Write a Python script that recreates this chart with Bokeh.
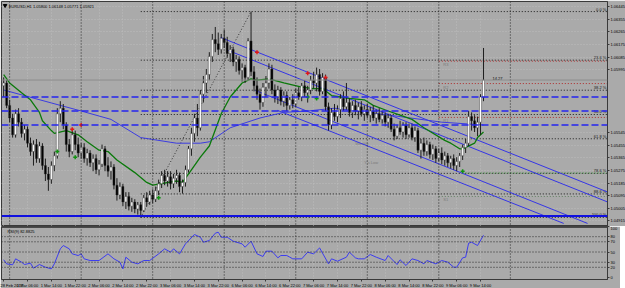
from bokeh.plotting import figure
from bokeh.models import (Range1d, LinearAxis, FixedTicker, NumeralTickFormatter,
                          Grid, Span, Label, ColumnDataSource)
from bokeh.layouts import column
from bokeh.embed import file_html
from bokeh.resources import INLINE
from bokeh.core.properties import value

# ---------------- data (EURUSD H1) ----------------
opens = [1.0588, 1.0590, 1.0574, 1.0565, 1.0553, 1.0568, 1.0562, 1.0554, 1.0557, 1.0547,
         1.0541, 1.0546, 1.0536, 1.0545, 1.0531, 1.0525, 1.0521, 1.0531, 1.0538, 1.0568,
         1.0572, 1.0560, 1.0546, 1.0541, 1.0553, 1.0546, 1.0540, 1.0544, 1.0536, 1.0540,
         1.0533, 1.0536, 1.0528, 1.0532, 1.0543, 1.0531, 1.0527, 1.0530, 1.0517, 1.0510,
         1.0516, 1.0505, 1.0509, 1.0502, 1.0505, 1.0500, 1.0503, 1.0499, 1.0508, 1.0505,
         1.0510, 1.0507, 1.0513, 1.0518, 1.0524, 1.0520, 1.0523, 1.0518, 1.0522, 1.0524,
         1.0516, 1.0519, 1.0528, 1.0543, 1.0554, 1.0565, 1.0558, 1.0582, 1.0590, 1.0596,
         1.0609, 1.0621, 1.0618, 1.0614, 1.0622, 1.0619, 1.0611, 1.0614, 1.0605, 1.0607,
         1.0599, 1.0601, 1.0594, 1.0620, 1.0598, 1.0588, 1.0582, 1.0576, 1.0587, 1.0590,
         1.0600, 1.0585, 1.0580, 1.0585, 1.0577, 1.0581, 1.0574, 1.0578, 1.0575, 1.0583,
         1.0580, 1.0588, 1.0583, 1.0585, 1.0592, 1.0590, 1.0596, 1.0584, 1.0594, 1.0573,
         1.0560, 1.0569, 1.0566, 1.0571, 1.0579, 1.0573, 1.0576, 1.0569, 1.0574, 1.0570,
         1.0573, 1.0568, 1.0571, 1.0567, 1.0570, 1.0565, 1.0568, 1.0564, 1.0567, 1.0562,
         1.0565, 1.0557, 1.0552, 1.0558, 1.0555, 1.0560, 1.0553, 1.0558, 1.0551, 1.0556,
         1.0542, 1.0547, 1.0541, 1.0546, 1.0539, 1.0543, 1.0536, 1.0540, 1.0535, 1.0538,
         1.0533, 1.0536, 1.0531, 1.0534, 1.0538, 1.0544, 1.0547, 1.0566, 1.0563, 1.0558,
         1.0562, 1.0580]
highs = [1.0594, 1.0592, 1.0578, 1.0568, 1.0571, 1.0572, 1.0565, 1.0560, 1.0559, 1.0551,
         1.0549, 1.0550, 1.0548, 1.0547, 1.0536, 1.0530, 1.0534, 1.0541, 1.0572, 1.0577,
         1.0575, 1.0562, 1.0550, 1.0557, 1.0556, 1.0551, 1.0547, 1.0547, 1.0543, 1.0542,
         1.0539, 1.0539, 1.0535, 1.0546, 1.0545, 1.0537, 1.0534, 1.0532, 1.0522, 1.0519,
         1.0518, 1.0512, 1.0512, 1.0508, 1.0507, 1.0505, 1.0505, 1.0510, 1.0512, 1.0513,
         1.0514, 1.0516, 1.0521, 1.0527, 1.0528, 1.0527, 1.0527, 1.0525, 1.0528, 1.0526,
         1.0521, 1.0531, 1.0545, 1.0558, 1.0568, 1.0575, 1.0585, 1.0595, 1.0600, 1.0612,
         1.0625, 1.0630, 1.0626, 1.0625, 1.0628, 1.0623, 1.0617, 1.0616, 1.0610, 1.0609,
         1.0604, 1.0603, 1.0622, 1.0641, 1.0602, 1.0594, 1.0586, 1.0590, 1.0595, 1.0604,
         1.0603, 1.0589, 1.0588, 1.0587, 1.0584, 1.0584, 1.0580, 1.0582, 1.0586, 1.0587,
         1.0590, 1.0592, 1.0588, 1.0595, 1.0598, 1.0601, 1.0600, 1.0597, 1.0596, 1.0576,
         1.0572, 1.0575, 1.0574, 1.0582, 1.0584, 1.0590, 1.0579, 1.0577, 1.0578, 1.0576,
         1.0577, 1.0574, 1.0575, 1.0573, 1.0574, 1.0571, 1.0572, 1.0570, 1.0569, 1.0568,
         1.0567, 1.0561, 1.0560, 1.0563, 1.0562, 1.0562, 1.0561, 1.0561, 1.0559, 1.0558,
         1.0550, 1.0551, 1.0549, 1.0548, 1.0546, 1.0545, 1.0543, 1.0544, 1.0541, 1.0540,
         1.0538, 1.0539, 1.0537, 1.0540, 1.0546, 1.0550, 1.0570, 1.0569, 1.0567, 1.0566,
         1.0582, 1.0615]
lows = [1.0580, 1.0572, 1.0562, 1.0551, 1.0551, 1.0559, 1.0551, 1.0549, 1.0544, 1.0538,
        1.0531, 1.0533, 1.0533, 1.0528, 1.0520, 1.0513, 1.0518, 1.0527, 1.0536, 1.0562,
        1.0557, 1.0541, 1.0537, 1.0539, 1.0542, 1.0537, 1.0536, 1.0533, 1.0531, 1.0530,
        1.0527, 1.0525, 1.0524, 1.0530, 1.0527, 1.0523, 1.0521, 1.0514, 1.0506, 1.0507,
        1.0502, 1.0500, 1.0499, 1.0498, 1.0497, 1.0496, 1.0494, 1.0498, 1.0502, 1.0503,
        1.0504, 1.0505, 1.0510, 1.0515, 1.0517, 1.0516, 1.0514, 1.0515, 1.0518, 1.0512,
        1.0511, 1.0516, 1.0526, 1.0538, 1.0548, 1.0552, 1.0556, 1.0576, 1.0583, 1.0592,
        1.0605, 1.0612, 1.0610, 1.0611, 1.0615, 1.0608, 1.0605, 1.0602, 1.0598, 1.0596,
        1.0591, 1.0590, 1.0592, 1.0595, 1.0584, 1.0578, 1.0571, 1.0573, 1.0580, 1.0586,
        1.0582, 1.0576, 1.0575, 1.0574, 1.0573, 1.0570, 1.0571, 1.0572, 1.0573, 1.0578,
        1.0577, 1.0580, 1.0576, 1.0582, 1.0586, 1.0584, 1.0581, 1.0582, 1.0570, 1.0556,
        1.0557, 1.0563, 1.0562, 1.0565, 1.0570, 1.0571, 1.0566, 1.0565, 1.0567, 1.0564,
        1.0566, 1.0563, 1.0565, 1.0562, 1.0563, 1.0561, 1.0562, 1.0561, 1.0559, 1.0558,
        1.0555, 1.0549, 1.0550, 1.0553, 1.0551, 1.0550, 1.0551, 1.0549, 1.0548, 1.0540,
        1.0536, 1.0538, 1.0538, 1.0536, 1.0535, 1.0533, 1.0534, 1.0532, 1.0531, 1.0530,
        1.0529, 1.0528, 1.0527, 1.0530, 1.0535, 1.0540, 1.0545, 1.0556, 1.0555, 1.0552,
        1.0553, 1.0577]
closes = [1.0590, 1.0574, 1.0565, 1.0553, 1.0568, 1.0562, 1.0554, 1.0557, 1.0547, 1.0541,
          1.0546, 1.0536, 1.0545, 1.0531, 1.0525, 1.0521, 1.0531, 1.0538, 1.0568, 1.0572,
          1.0560, 1.0546, 1.0541, 1.0553, 1.0546, 1.0540, 1.0544, 1.0536, 1.0540, 1.0533,
          1.0536, 1.0528, 1.0532, 1.0543, 1.0531, 1.0527, 1.0530, 1.0517, 1.0510, 1.0516,
          1.0505, 1.0509, 1.0502, 1.0505, 1.0500, 1.0503, 1.0499, 1.0508, 1.0505, 1.0510,
          1.0507, 1.0513, 1.0518, 1.0524, 1.0520, 1.0523, 1.0518, 1.0522, 1.0524, 1.0516,
          1.0519, 1.0528, 1.0543, 1.0554, 1.0565, 1.0558, 1.0582, 1.0590, 1.0596, 1.0609,
          1.0621, 1.0618, 1.0614, 1.0622, 1.0619, 1.0611, 1.0614, 1.0605, 1.0607, 1.0599,
          1.0601, 1.0594, 1.0620, 1.0598, 1.0588, 1.0582, 1.0576, 1.0587, 1.0590, 1.0600,
          1.0585, 1.0580, 1.0585, 1.0577, 1.0581, 1.0574, 1.0578, 1.0575, 1.0583, 1.0580,
          1.0588, 1.0583, 1.0585, 1.0592, 1.0590, 1.0596, 1.0584, 1.0594, 1.0573, 1.0560,
          1.0569, 1.0566, 1.0571, 1.0579, 1.0573, 1.0576, 1.0569, 1.0574, 1.0570, 1.0573,
          1.0568, 1.0571, 1.0567, 1.0570, 1.0565, 1.0568, 1.0564, 1.0567, 1.0562, 1.0565,
          1.0557, 1.0552, 1.0558, 1.0555, 1.0560, 1.0553, 1.0558, 1.0551, 1.0556, 1.0542,
          1.0547, 1.0541, 1.0546, 1.0539, 1.0543, 1.0536, 1.0540, 1.0535, 1.0538, 1.0533,
          1.0536, 1.0531, 1.0534, 1.0538, 1.0544, 1.0547, 1.0566, 1.0563, 1.0558, 1.0562,
          1.0580, 1.05921]

time_tick_bars = [0, 8, 16, 24, 32, 40, 48, 56, 64, 72, 80, 88, 96, 104, 112, 120, 128, 136, 144, 152, 160]
time_tick_labels = ["28 Feb 2017", "1 Mar 06:00", "1 Mar 14:00", "1 Mar 22:00", "2 Mar 06:00",
                    "2 Mar 14:00", "2 Mar 22:00", "3 Mar 06:00", "3 Mar 14:00", "3 Mar 22:00",
                    "6 Mar 06:00", "6 Mar 14:00", "6 Mar 22:00", "7 Mar 06:00", "7 Mar 14:00",
                    "7 Mar 22:00", "8 Mar 06:00", "8 Mar 14:00", "8 Mar 22:00", "9 Mar 06:00",
                    "9 Mar 14:00"]
day_start_bars = [2, 26, 50, 74, 98, 122, 146, 170]
price_ticks = [1.06445, 1.06355, 1.06265, 1.06175, 1.06085, 1.05995, 1.05545, 1.05455,
               1.05365, 1.05275, 1.05185, 1.05095, 1.05005, 1.04915]
rsi_ticks = [0, 20, 30, 50, 70, 80, 100]
rsi_levels = [20, 30, 50, 70, 80]

ma_fast_bars = [0, 2, 6, 9, 12, 13, 16, 17, 21, 25, 28, 32, 35, 38, 44, 48, 50, 58, 60, 63, 66,
                69, 73, 76, 80, 83, 85, 89, 94, 100, 104, 107, 110, 113, 116, 121, 124, 129,
                133, 137, 141, 148, 150, 153, 154, 158, 159, 161]
ma_fast_vals = [1.0596, 1.0590, 1.0583, 1.0578, 1.0569, 1.0563, 1.0556, 1.0554, 1.0556, 1.0553,
                1.0548, 1.0542, 1.0541, 1.0535, 1.0526, 1.0519, 1.0517, 1.0520, 1.0519, 1.0528,
                1.0537, 1.0545, 1.0568, 1.0580, 1.0590, 1.0593, 1.0592, 1.0593, 1.0590, 1.0587,
                1.0586, 1.0586, 1.0581, 1.0580, 1.0579, 1.0578, 1.0574, 1.0570, 1.0567, 1.0564,
                1.0558, 1.0549, 1.0547, 1.0543, 1.0543, 1.0547, 1.0551, 1.0555]
ma_slow_bars = [0, 19, 26, 36, 46, 58, 66, 69, 76, 86, 94, 102, 111, 122, 133, 147, 161]
ma_slow_vals = [1.0585, 1.0574, 1.0570, 1.0564, 1.0551, 1.0547, 1.0547, 1.0548, 1.0558, 1.0565,
                1.0569, 1.0570, 1.0572, 1.0569, 1.0566, 1.0562, 1.0560]

rsi_bars = [0, 1, 3, 4, 6, 7, 9, 10, 12, 14, 16, 17, 19, 20, 22, 23, 25, 26, 27, 29, 32, 35, 37,
            39, 40, 41, 43, 45, 47, 49, 52, 54, 56, 57, 59, 61, 64, 66, 67, 69, 71, 72, 73, 75,
            77, 80, 81, 83, 85, 87, 88, 90, 92, 93, 95, 97, 100, 102, 104, 106, 109, 110, 112,
            115, 116, 118, 119, 121, 123, 125, 128, 129, 132, 133, 135, 137, 139, 141, 142, 145,
            147, 149, 151, 152, 154, 155, 156, 157, 159, 161]
rsi_vals = [34.7, 26.8, 24.9, 36.6, 30.1, 25.5, 28.1, 18.3, 25.5, 20.2, 17.0, 26.8, 56.2, 62.7,
            56.2, 46.4, 43.1, 46.4, 36.6, 33.3, 33.3, 46.4, 36.6, 30.1, 17.0, 39.9, 30.1, 26.8,
            33.3, 33.3, 46.4, 56.2, 49.7, 56.2, 46.4, 66.0, 84.3, 79.0, 69.2, 72.5, 86.9, 88.8,
            79.0, 79.0, 71.2, 66.0, 59.4, 71.2, 46.4, 41.2, 51.6, 51.6, 38.6, 43.1, 43.1, 36.6,
            36.6, 49.7, 46.4, 58.0, 26.8, 36.6, 32.0, 39.9, 49.7, 38.6, 36.6, 36.6, 45.1, 39.9,
            33.3, 43.1, 25.5, 34.7, 23.5, 36.6, 33.3, 26.8, 33.3, 26.8, 33.3, 30.1, 20.2, 20.2,
            38.6, 39.9, 67.3, 69.2, 62.7, 82.9]
rsi_last = 82.8825

round_levels = [1.0580, 1.0570, 1.0560]
support_level = 1.0495
bid_price = 1.05921
title_text = "EURUSD,H1  1.05800 1.06148 1.05771 1.05921"

fib_low_bar, fib_high_bar = 46, 83
fib_ratios = [0.0, 0.236, 0.382, 0.5, 0.618, 0.786, 0.886, 1.0]
fib_names = ["0.0 %", "23.6 %", "38.2 %", "50.0 %", "61.8 %", "78.6 %", "88.6 %", "100.0 %"]

# channel trend lines (bar index / price at both ends)
chan_x0 = [72.8, 75.4, 84.5, 91.9]
chan_y0 = [1.06225, 1.06132, 1.05846, 1.05704]
chan_x1 = [203.0, 203.0, 195.9, 187.9]
chan_y1 = [1.05118, 1.05047, 1.04897, 1.04897]

# daily pivot levels (from Mar 9 00:00)
pivot_start_bar = 146
pivot_vals = [1.06056, 1.05896, 1.05654, 1.05090]
pivot_cols = ["#b02a2a", "#b02a2a", "#b02a2a", "#5d7d5d"]
pivot_tags = ["R3", "R2", "R1", "S1"]
ylow_start_bar = 154
ylow_val = 1.05257
note_bars = [118, 121]
note_vals = [1.0547, 1.0533]
note_texts = ["Weekly", "Y's Low"]

red_mark_bars = [23, 26, 85, 102, 108]
red_mark_vals = [1.0557, 1.0560, 1.0612, 1.0597, 1.0594]
green_mark_bars = [18, 24, 52, 102, 105, 154]
green_mark_vals = [1.0541, 1.0537, 1.0508, 1.0580, 1.0579, 1.0527]

timer_text = "14.27"

# ---------------- layout constants ----------------
BG = "#aaaaaa"
GRID = "#bdbdbd"
FONT = "Liberation Sans"
FS = "4px"
FRAME_W = 606
MAIN_H = 225
RSI_H = 53
X0, X1 = -0.73, 202.6
Y0, Y1 = 1.04875, 1.06482
PX = (Y1 - Y0) / MAIN_H

xr = Range1d(X0, X1)


def style(fig):
    fig.background_fill_color = BG
    fig.border_fill_color = BG
    fig.outline_line_color = "#3a3a3a"
    fig.outline_line_width = 1
    fig.xgrid.visible = False
    fig.ygrid.visible = False


def style_axis(ax):
    ax.major_label_text_font_size = FS
    ax.major_label_text_font = FONT
    ax.major_label_text_color = "black"
    ax.major_tick_out = 2
    ax.major_tick_in = 0
    ax.minor_tick_line_color = None
    ax.axis_line_color = "#3a3a3a"
    ax.major_tick_line_color = "#3a3a3a"
    ax.major_label_standoff = 1


# ---------------- main price chart ----------------
p = figure(frame_width=FRAME_W, frame_height=MAIN_H, x_range=xr, y_range=Range1d(Y0, Y1),
           output_backend="svg", toolbar_location=None, x_axis_location=None,
           y_axis_location=None, min_border_left=1, min_border_top=1,
           min_border_bottom=0, min_border_right=0)
style(p)

yax = LinearAxis(ticker=FixedTicker(ticks=price_ticks),
                 formatter=NumeralTickFormatter(format="0.00000"))
style_axis(yax)
p.add_layout(yax, "right")

p.add_layout(Grid(dimension=0, ticker=FixedTicker(ticks=time_tick_bars),
                  grid_line_color=GRID, grid_line_dash="1 2", grid_line_width=1))
p.add_layout(Grid(dimension=1, ticker=FixedTicker(ticks=price_ticks),
                  grid_line_color=GRID, grid_line_dash="1 2", grid_line_width=1))
for b in day_start_bars:
    p.add_layout(Span(location=b, dimension="height", line_color="#2a2a2a",
                      line_dash="1 2", line_width=1))

# horizontal levels
for lv in round_levels:
    p.add_layout(Span(location=lv, dimension="width", line_color="#2424f0",
                      line_dash="7 3", line_width=1.3))
p.add_layout(Span(location=support_level, dimension="width", line_color="#1010e0", line_width=2))
p.add_layout(Span(location=bid_price, dimension="width", line_color="#8c8c8c", line_width=1))

# fibonacci
fib_hi = highs[fib_high_bar]
fib_lo = lows[fib_low_bar]
fib_prices = [fib_hi - rr * (fib_hi - fib_lo) for rr in fib_ratios]
p.segment(x0=[fib_low_bar] * len(fib_prices), y0=fib_prices, x1=[X1] * len(fib_prices),
          y1=fib_prices, line_color="#1a1a1a", line_dash="1 2", line_width=1)
p.segment(x0=[fib_low_bar], y0=[fib_lo], x1=[fib_high_bar], y1=[fib_hi],
          line_color="#333333", line_dash="1 2", line_width=1)
p.text(x=[X1 - 0.4] * len(fib_prices), y=fib_prices, text=fib_names, text_align="right",
       text_baseline="bottom", text_font_size=FS, text_font=value(FONT), text_color="#1a1a1a")

# pivots
p.segment(x0=[pivot_start_bar] * len(pivot_vals), y0=pivot_vals, x1=[X1] * len(pivot_vals),
          y1=pivot_vals, line_color=pivot_cols, line_dash="1 2", line_width=1)
p.text(x=[pivot_start_bar + 1.5] * len(pivot_tags), y=pivot_vals, text=pivot_tags,
       text_baseline="top", text_font_size=FS, text_font=value(FONT), text_color="#7a7a7a",
       y_offset=1)
p.segment(x0=[ylow_start_bar], y0=[ylow_val], x1=[X1], y1=[ylow_val], line_color="#2e9a2e",
          line_dash="1 2", line_width=1)
p.text(x=note_bars, y=note_vals, text=note_texts, text_baseline="middle", text_font_size=FS,
       text_font=value(FONT), text_color="#7a7a7a")

# channel lines
p.segment(x0=chan_x0, y0=chan_y0, x1=chan_x1, y1=chan_y1, line_color="#3535e6", line_width=1)

# moving averages
p.line(ma_slow_bars, ma_slow_vals, line_color="#3c3ce0", line_width=1)
p.line(ma_fast_bars, ma_fast_vals, line_color="#0b7a0b", line_width=1.3)

# candles
bars = list(range(len(closes)))
src = ColumnDataSource(dict(
    k=bars, o=opens, h=highs, l=lows, c=closes,
    top=[max(a, b) for a, b in zip(opens, closes)],
    bot=[min(a, b) for a, b in zip(opens, closes)],
    fill=["white" if c >= o else "black" for o, c in zip(opens, closes)]))
p.segment(x0="k", y0="l", x1="k", y1="h", source=src, line_color="#1e1e1e", line_width=1)
p.vbar(x="k", width=0.68, top="top", bottom="bot", source=src, fill_color="fill",
       line_color="#2a2a2a", line_width=0.4)

# markers
p.scatter(red_mark_bars, red_mark_vals, marker="cross", size=4, line_color="#e01818", line_width=1.5)
p.scatter(green_mark_bars, green_mark_vals, marker="cross", size=4, line_color="#129212", line_width=1.5)

# texts
p.text(x=[X0 + 2.4], y=[Y1], text=[title_text], text_baseline="top", text_font_size=FS,
       text_font=value(FONT), text_color="black", y_offset=2)
p.scatter([X0 + 1.2], [Y1 - 4 * PX], marker="inverted_triangle", size=3.5, color="black")
p.text(x=[len(closes) + 2], y=[bid_price], text=[timer_text], text_baseline="bottom",
       text_font_size=FS, text_font=value(FONT), text_color="black")

# axis boxes
for lv in round_levels + [support_level]:
    p.add_layout(Label(x=X1 + 0.35, y=lv, text=f"{lv:.5f}", text_font_size=FS, text_font=FONT,
                       text_color="white", text_baseline="middle",
                       background_fill_color="#1f1fe0"))
p.add_layout(Label(x=X1 + 0.35, y=bid_price, text=f"{bid_price:.5f}", text_font_size=FS,
                   text_font=FONT, text_color="white", text_baseline="middle",
                   background_fill_color="black"))

# ---------------- RSI panel ----------------
r = figure(frame_width=FRAME_W, frame_height=RSI_H, x_range=xr, y_range=Range1d(-3.9, 100.0),
           output_backend="svg", toolbar_location=None, x_axis_location=None,
           y_axis_location=None, min_border_left=1, min_border_top=0,
           min_border_bottom=0, min_border_right=0)
style(r)
rax = LinearAxis(ticker=FixedTicker(ticks=rsi_ticks), formatter=NumeralTickFormatter(format="0"))
xax = LinearAxis(ticker=FixedTicker(ticks=time_tick_bars),
                 major_label_overrides={b: t for b, t in zip(time_tick_bars, time_tick_labels)})
style_axis(rax)
style_axis(xax)
xax.major_label_text_align = "left"
r.add_layout(rax, "right")
r.add_layout(xax, "below")
r.add_layout(Grid(dimension=0, ticker=FixedTicker(ticks=time_tick_bars),
                  grid_line_color=GRID, grid_line_dash="1 2", grid_line_width=1))
for b in day_start_bars:
    r.add_layout(Span(location=b, dimension="height", line_color="#2a2a2a",
                      line_dash="1 2", line_width=1))
for lv in rsi_levels:
    r.add_layout(Span(location=lv, dimension="width", line_color="#2a2a2a",
                      line_dash="1 2", line_width=1))
r.add_layout(Span(location=r.y_range.end, dimension="width", line_color="#4a4a4a", line_width=3))
r.line(rsi_bars, rsi_vals, line_color="#3c3cf0", line_width=1)
r.text(x=[X0 + 2.0], y=[r.y_range.end], text=[f"RSI(9) {rsi_last:.4f}"], text_baseline="top",
       text_font_size=FS, text_font=value(FONT), text_color="black", y_offset=2)

layout = column(p, r, spacing=0)
open("out.html", "w").write(file_html(layout, INLINE))
